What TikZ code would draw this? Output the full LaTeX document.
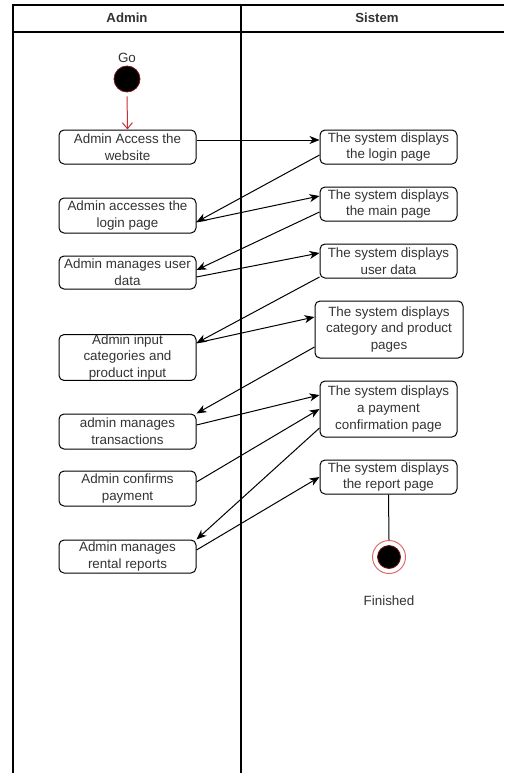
\documentclass[tikz,border=0pt]{standalone}
\usepackage{fontspec}
\setmainfont{Liberation Sans}
\usetikzlibrary{arrows.meta}
\definecolor{startred}{RGB}{120,20,25}
\definecolor{flowred}{RGB}{200,45,55}
\definecolor{ringred}{RGB}{225,105,105}
\definecolor{boxtext}{RGB}{51,51,51}
\tikzset{
	actbox/.style={draw, rounded corners=5pt, line width=1pt, minimum width=137pt,
		minimum height=34pt, inner sep=0pt, align=center, text=boxtext,
		font=\fontsize{13.4}{16.7}\selectfont},
	flow/.style={line width=1pt, -{Stealth[length=10pt,width=8pt,inset=3pt]}},
	lane/.style={line width=1.3pt},
	lanehead/.style={font=\bfseries\fontsize{13.2}{16}\selectfont, text=boxtext},
	caption/.style={font=\fontsize{13.4}{16.7}\selectfont, text=boxtext},
}

\begin{document}
\begin{tikzpicture}[x=1pt, y=-1pt]
	%%%%% START %%%%%
	\useasboundingbox (0,0) rectangle (504,773);
	
	% swimlanes
	\draw[lane] (13,773) -- (13,5) -- (504,5);
	\draw[lane] (13,32) -- (504,32);
	\draw[lane] (241,5) -- (241,773);
	\node[lanehead] (hadmin) at (127,18) {Admin};
	\node[lanehead] (hsistem) at (377,18) {Sistem};
	
	% start
	\node[caption] (golabel) at (127,58) {Go};
	\node[circle, fill=black, draw=startred, line width=0.8pt, minimum size=26pt, inner sep=0pt] (go) at (127,79) {};
	
	% admin lane
	\node[actbox] (adm1) at (127.5,147) {Admin Access the\\website};
	\node[actbox, minimum height=35pt] (adm2) at (127.5,215.5) {Admin accesses the\\login page};
	\node[actbox, minimum height=33pt] (adm3) at (127.5,272.5) {Admin manages user\\data};
	\node[actbox, minimum height=45pt] (adm4) at (127.5,357.5) {Admin input\\categories and\\product input};
	\node[actbox, minimum height=35pt] (adm5) at (127.5,431.5) {admin manages\\transactions};
	\node[actbox, minimum height=35pt] (adm6) at (127.5,488.5) {Admin confirms\\payment};
	\node[actbox, minimum height=33pt] (adm7) at (127.5,556.5) {Admin manages\\rental reports};
	
	% system lane
	\node[actbox] (sys1) at (388.5,147) {The system displays\\the login page};
	\node[actbox] (sys2) at (388.5,204) {The system displays\\the main page};
	\node[actbox] (sys3) at (388.5,261) {The system displays\\user data};
	\node[actbox, minimum width=148pt, minimum height=57pt] (sys4) at (389,329.5) {The system displays\\category and product\\pages};
	\node[actbox, minimum height=56pt] (sys5) at (388.5,409) {The system displays\\a payment\\confirmation page};
	\node[actbox] (sys6) at (388.5,477) {The system displays\\the report page};
	
	% finish
	\node[circle, draw=ringred, line width=1pt, fill=white, minimum size=33pt, inner sep=0pt] (fin) at (389,557) {};
	\node[circle, fill=black, draw=startred, line width=0.8pt, minimum size=23pt, inner sep=0pt] (fincore) at (fin) {};
	\node[caption] (finlabel) at (389,601) {Finished};
	
	% flows
	\draw[line width=1pt, flowred, shorten <=4pt, -{Straight Barb[length=6pt,width=10pt]}] (go.south) -- (adm1.north);
	
	\draw[flow] ([yshift=7pt]adm1.east) -- ([yshift=7pt]sys1.west);
	\draw[flow] ([yshift=-8pt]sys1.west) -- ([yshift=-6.5pt]adm2.east);
	\draw[flow] ([yshift=-6.5pt]adm2.east) -- ([yshift=8pt]sys2.west);
	\draw[flow] ([yshift=-8pt]sys2.west) -- ([yshift=2.5pt]adm3.east);
	\draw[flow] ([yshift=-4.5pt]adm3.east) -- ([yshift=8pt]sys3.west);
	\draw[flow] ([yshift=-16pt]sys3.west) -- ([yshift=14.5pt]adm4.east);
	\draw[flow] ([yshift=14.5pt]adm4.east) -- ([yshift=12.5pt]sys4.west);
	\draw[flow] ([yshift=-17.5pt]sys4.west) -- (adm5.north east);
	\draw[flow] ([yshift=6.5pt]adm5.east) -- ([yshift=14pt]sys5.west);
	\draw[flow] ([yshift=6.5pt]adm6.east) -- (sys5.west);
	\draw[flow] ([yshift=-19pt]sys5.west) -- (adm7.north east);
	\draw[flow] ([yshift=6.5pt]adm7.east) -- (sys6.west);
	
	\draw[line width=1pt] (sys6.south) -- (fin.north);
	%%%%% END %%%%%
\end{tikzpicture}
\end{document}
